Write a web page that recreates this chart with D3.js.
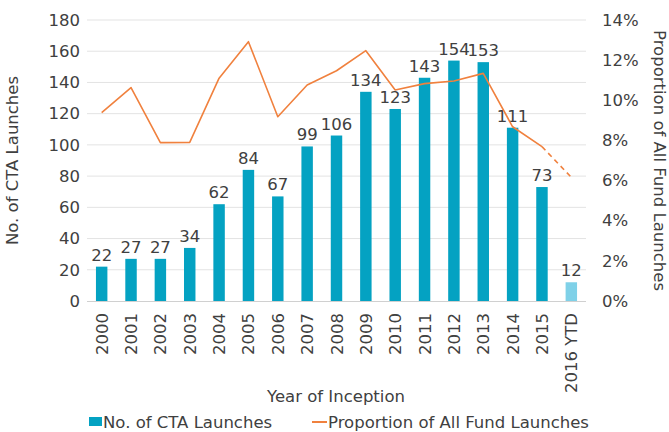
<!DOCTYPE html>
<html><head><meta charset="utf-8">
<script src="https://cdn.jsdelivr.net/npm/d3@7"></script>
<style>body{margin:0;background:#fff}svg{display:block}text{font-family:"DejaVu Sans",sans-serif;fill:#404040}</style>
</head><body><svg id="c" width="669" height="432"></svg>
<script>
const years = ["2000","2001","2002","2003","2004","2005","2006","2007","2008","2009","2010","2011","2012","2013","2014","2015","2016 YTD"];
const ctaLaunches = [22,27,27,34,62,84,67,99,106,134,123,143,154,153,111,73,12];
const proportion = [9.38,10.63,7.89,7.9,11.1,12.92,9.18,10.76,11.47,12.47,10.51,10.83,10.96,11.34,8.68,7.69,6.16];
const leftTicks = [0,20,40,60,80,100,120,140,160,180];
const rightTicks = [0,2,4,6,8,10,12,14];

const FS = "16.5px";
const svg = d3.select("#c");
const m = {l:87, r:586, t:20, b:301};
const x = d3.scaleBand().domain(years).range([m.l, m.r]).paddingInner(0.61).paddingOuter(0.305);
const y = d3.scaleLinear().domain([0,180]).range([m.b, m.t]);
const y2 = d3.scaleLinear().domain([0,14]).range([m.b, m.t]);

// gridlines
svg.append("g").selectAll("line").data(leftTicks.slice(1)).join("line")
  .attr("x1", m.l).attr("x2", m.r).attr("y1", d=>y(d)).attr("y2", d=>y(d))
  .attr("stroke", "#e3e3e3").attr("stroke-width", 1);

// left axis
const la = svg.append("g").attr("transform", `translate(${m.l},0)`)
  .call(d3.axisLeft(y).tickValues(leftTicks).tickSize(0).tickPadding(7));
la.select(".domain").remove();
la.selectAll("text").style("font-size",FS).attr("fill","#404040");

// right axis
const ra = svg.append("g").attr("transform", `translate(${m.r},0)`)
  .call(d3.axisRight(y2).tickValues(rightTicks).tickSize(0).tickPadding(16).tickFormat(d=>d+"%"));
ra.select(".domain").remove();
ra.selectAll("text").style("font-size",FS).attr("fill","#404040");

// bars
svg.append("g").selectAll("rect").data(years).join("rect")
  .attr("x", d=>x(d)).attr("width", x.bandwidth())
  .attr("y", (d,i)=>y(ctaLaunches[i])).attr("height", (d,i)=>y(0)-y(ctaLaunches[i]))
  .attr("fill", (d,i)=> i===years.length-1 ? "#7fd1e8" : "#04a2c2");

// baseline
svg.append("line").attr("x1", m.l).attr("x2", m.r).attr("y1", y(0)+0.5).attr("y2", y(0)+0.5)
  .attr("stroke", "#d0d0d0");

// bar labels
svg.append("g").selectAll("text").data(years).join("text")
  .attr("x", d=>x(d)+x.bandwidth()/2).attr("y", (d,i)=>y(ctaLaunches[i])-6)
  .attr("text-anchor","middle").style("font-size",FS)
  .text((d,i)=>ctaLaunches[i]);

// line
const cx = d=>x(d)+x.bandwidth()/2;
const n = years.length;
const line = d3.line().x(d=>cx(d[0])).y(d=>y2(d[1]));
const solid = years.slice(0,n-1).map((d,i)=>[d,proportion[i]]);
const dashed = [[years[n-2],proportion[n-2]],[years[n-1],proportion[n-1]]];
svg.append("path").attr("d", line(solid)).attr("fill","none").attr("stroke","#f0813e").attr("stroke-width",1.6).attr("stroke-linejoin","round");
svg.append("path").attr("d", line(dashed)).attr("fill","none").attr("stroke","#f0813e").attr("stroke-width",1.6).attr("stroke-dasharray","5,4");

// x labels
svg.append("g").selectAll("text").data(years).join("text")
  .attr("transform", d=>`translate(${cx(d)+6},${m.b+12}) rotate(-90)`)
  .attr("text-anchor","end").style("font-size",FS)
  .text(d=>d);

// axis titles
svg.append("text").attr("x", 336).attr("y", 402).attr("text-anchor","middle").style("font-size",FS).text("Year of Inception");
svg.append("text").attr("transform", `translate(18,${(m.t+m.b)/2}) rotate(-90)`).attr("text-anchor","middle").style("font-size",FS).text("No. of CTA Launches");
svg.append("text").attr("transform", `translate(654,${(m.t+m.b)/2}) rotate(90)`).attr("text-anchor","middle").style("font-size",FS).text("Proportion of All Fund Launches");

// legend
const lg = svg.append("g");
lg.append("rect").attr("x", 89).attr("y", 417).attr("width", 13).attr("height", 9).attr("fill","#04a2c2");
lg.append("text").attr("x", 103).attr("y", 428).style("font-size",FS).text("No. of CTA Launches");
lg.append("line").attr("x1", 312).attr("x2", 327).attr("y1", 422).attr("y2", 422).attr("stroke","#f0813e").attr("stroke-width",2);
lg.append("text").attr("x", 328).attr("y", 428).style("font-size",FS).text("Proportion of All Fund Launches");
</script></body></html>
